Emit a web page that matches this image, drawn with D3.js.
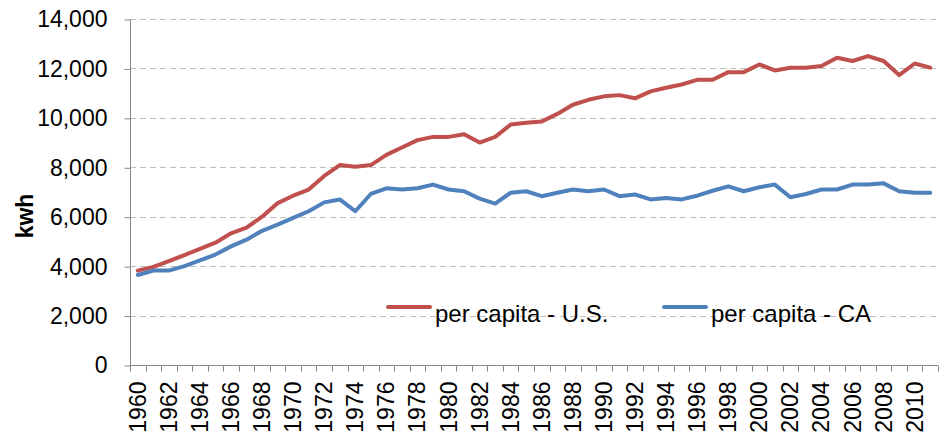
<!DOCTYPE html>
<html>
<head>
<meta charset="utf-8">
<script src="https://cdn.jsdelivr.net/npm/d3@7"></script>
<style>
  body { margin: 0; background: #fff; }
  text { font-family: "Liberation Sans", Arial, sans-serif; }
</style>
</head>
<body>
<script>
// data
var years = d3.range(1960, 2012);
var usPerCapita = [3820, 3970, 4200, 4450, 4700, 4950, 5330, 5560, 6000, 6550,
  6850, 7100, 7650, 8090, 8020, 8090, 8500, 8800, 9100, 9230,
  9230, 9340, 9000, 9230, 9730, 9800, 9850, 10160, 10530, 10730,
  10870, 10920, 10790, 11070, 11220, 11350, 11540, 11540, 11850, 11850,
  12160, 11920, 12030, 12030, 12100, 12430, 12300, 12500, 12300, 11730,
  12200, 12030];
var caPerCapita = [3640, 3820, 3820, 4000, 4230, 4470, 4800, 5070, 5430, 5680,
  5950, 6220, 6580, 6700, 6220, 6920, 7150, 7100, 7150, 7300,
  7100, 7030, 6730, 6530, 6970, 7030, 6830, 6970, 7100, 7030,
  7100, 6830, 6900, 6700, 6760, 6700, 6850, 7050, 7230, 7030,
  7190, 7300, 6790, 6920, 7100, 7100, 7300, 7300, 7350, 7030,
  6970, 6970];
var yTicks = [0, 2000, 4000, 6000, 8000, 10000, 12000, 14000];

var series = [
  { name: "per capita - U.S.", values: usPerCapita, color: "#c0504d" },
  { name: "per capita - CA", values: caPerCapita, color: "#4f81bd" }
];

var width = 942, height = 436;
var plotLeft = 130, plotRight = 938, plotTop = 19, plotBottom = 365;

var svg = d3.select("body").append("svg")
  .attr("width", width)
  .attr("height", height);

var x = d3.scaleBand()
  .domain(years)
  .range([plotLeft, plotRight]);

var y = d3.scaleLinear()
  .domain([0, 14000])
  .range([plotBottom, plotTop]);

// gridlines
svg.append("g")
  .selectAll("line")
  .data(yTicks.slice(1))
  .enter()
  .append("line")
  .attr("x1", plotLeft)
  .attr("x2", plotRight)
  .attr("y1", function(d) { return Math.round(y(d)) + 0.5; })
  .attr("y2", function(d) { return Math.round(y(d)) + 0.5; })
  .attr("stroke", "#bebebe")
  .attr("stroke-width", 1)
  .attr("stroke-dasharray", "6,4");

// y axis
var yAxis = svg.append("g")
  .attr("transform", "translate(" + (plotLeft + 0.5) + ",0.5)")
  .call(d3.axisLeft(y).tickValues(yTicks).tickSize(6).tickPadding(17)
    .tickFormat(d3.format(",")));
yAxis.selectAll("path, line").attr("stroke", "#868686");
yAxis.select(".domain").attr("d", "M0," + plotTop + "V" + plotBottom);
yAxis.selectAll("text")
  .attr("font-size", 23)
  .attr("font-family", "Liberation Sans, Arial, sans-serif")
  .attr("fill", "#000");

// x axis
var xAxis = svg.append("g")
  .attr("transform", "translate(0," + (plotBottom + 0.5) + ")");
xAxis.append("line")
  .attr("x1", plotLeft).attr("x2", plotRight)
  .attr("stroke", "#868686");
xAxis.selectAll(".tick")
  .data(years.concat([2012]))
  .enter()
  .append("line")
  .attr("x1", function(d, i) { return Math.round(plotLeft + i * x.bandwidth()) + 0.5; })
  .attr("x2", function(d, i) { return Math.round(plotLeft + i * x.bandwidth()) + 0.5; })
  .attr("y1", 0)
  .attr("y2", 6)
  .attr("stroke", "#868686");
xAxis.selectAll("text")
  .data(years.filter(function(d) { return d % 2 === 0; }))
  .enter()
  .append("text")
  .attr("transform", function(d) {
    return "translate(" + (x(d) + x.bandwidth() / 2 + 8) + ",16) rotate(-90)";
  })
  .attr("text-anchor", "end")
  .attr("font-size", 23)
  .text(function(d) { return d; });

// y label
svg.append("text")
  .attr("transform", "translate(33,216) rotate(-90)")
  .attr("text-anchor", "middle")
  .attr("font-size", 23)
  .attr("font-weight", "bold")
  .text("kwh");

// lines
var line = d3.line()
  .x(function(d, i) { return x(years[i]) + x.bandwidth() / 2; })
  .y(function(d) { return y(d); });

svg.selectAll(".series")
  .data(series)
  .enter()
  .append("path")
  .attr("d", function(d) { return line(d.values); })
  .attr("fill", "none")
  .attr("stroke", function(d) { return d.color; })
  .attr("stroke-width", 4)
  .attr("stroke-linejoin", "round")
  .attr("stroke-linecap", "round");

// legend
var legendX = [388, 664];
var legend = svg.selectAll(".legend")
  .data(series)
  .enter()
  .append("g")
  .attr("transform", function(d, i) { return "translate(" + legendX[i] + ",307)"; });
legend.append("line")
  .attr("x1", 0).attr("x2", 42)
  .attr("stroke", function(d) { return d.color; })
  .attr("stroke-width", 4)
  .attr("stroke-linecap", "round");
legend.append("text")
  .attr("x", 47)
  .attr("y", 15)
  .attr("font-size", 24)
  .text(function(d) { return d.name; });
</script>
</body>
</html>
